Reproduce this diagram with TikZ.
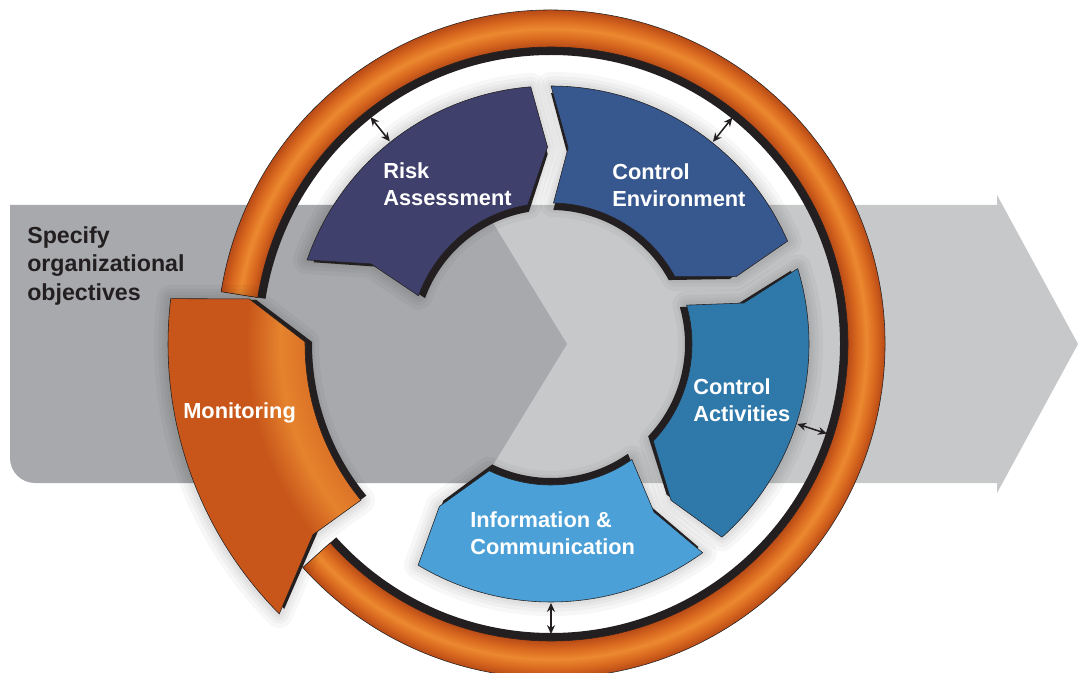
\documentclass[tikz,border=0pt]{standalone}
\usepackage{fontspec}
\setmainfont{Liberation Sans}
\usetikzlibrary{arrows.meta, calc}
\definecolor{raBlue}{HTML}{3F406C}
\definecolor{ceBlue}{HTML}{37588F}
\definecolor{caBlue}{HTML}{2E78AA}
\definecolor{icBlue}{HTML}{4BA0D8}
\definecolor{grayDark}{HTML}{A7A9AC}
\definecolor{grayLight}{HTML}{C7C8CA}
\definecolor{ringDark}{HTML}{B84A16}
\definecolor{ringMid}{HTML}{D9691F}
\definecolor{ringLight}{HTML}{EC8930}
\definecolor{monDark}{HTML}{C8561A}
\definecolor{monMid}{HTML}{DA6F25}
\definecolor{monLight}{HTML}{E5832E}
\definecolor{inkBlack}{HTML}{231F20}

\pgfdeclareradialshading{ringtube}{\pgfpointorigin}{color(0bp)=(ringDark); color(22.2bp)=(ringDark); color(22.9bp)=(ringMid); color(23.6bp)=(ringLight); color(24.3bp)=(ringMid); color(25bp)=(ringDark); color(50bp)=(ringDark)}
\pgfdeclareradialshading{montube}{\pgfpointorigin}{color(0bp)=(monMid); color(15.6bp)=(monMid); color(17.6bp)=(monLight); color(19.8bp)=(monDark); color(50bp)=(monDark)}

% segment of the cycle: options, outer/inner start, notch, outer/inner end, point
\newcommand{\segpath}[7]{\path[#1] (#2:\rout) arc[start angle=#2, end angle=#5, radius=\rout]
  -- (#7:\rmid) -- (#6:\rin) arc[start angle=#6, end angle=#3, radius=\rin] -- (#4:\rmid) -- cycle;}
% broken orange ring: options, inner radius, outer radius
\newcommand{\ringpath}[3]{\path[#1] (171:#3) arc[start angle=171, end angle=-138, radius=#3]
  -- (-138:#2) arc[start angle=-138, end angle=171, radius=#2] -- cycle;}
% monitoring block: options, inner, middle, outer radius
\newcommand{\monpath}[4]{\path[#1] (224.8:#4) arc[start angle=224.8, end angle=173.2, radius=#4]
  -- (171.5:#3) -- (179.5:#2) arc[start angle=179.5, end angle=219.4, radius=#2] -- (218.7:#3) -- cycle;}

\begin{document}
\begin{tikzpicture}[x=0.025cm, y=0.025cm,
  halo/.style={draw=black, draw opacity=.03, line width=#1, line join=round},
  segfill/.style={fill=#1, draw=inkBlack, line width=0.4pt, line join=round},
  seglabel/.style={text=white, font=\fontsize{15.5}{19}\selectfont\bfseries, align=left, anchor=west, inner sep=0pt},
  gaparrow/.style={{Stealth[length=2.2mm, width=2mm]}-{Stealth[length=2.2mm, width=2mm]}, line width=1.1pt, draw=inkBlack}]
\useasboundingbox (0,0) rectangle (1078,672);
\fill[white] (0,0) rectangle (1078,672);

% big grey arrow behind the cycle
\fill[grayLight] (400,467) -- (997,467) -- (997,477) -- (1078,328) -- (997,179) -- (997,189) -- (400,189) -- cycle;
\fill[grayDark] (10,467) -- (482,467) -- (567,328) -- (482,189) -- (35,189)
  arc[start angle=270, end angle=180, radius=25] -- cycle;
\node[font=\fontsize{16.5}{20.5}\selectfont\bfseries, text=inkBlack, align=left, anchor=west, inner sep=0pt]
  (objLbl) at (27,406) {Specify\\organizational\\objectives};

\begin{scope}[shift={(551,328)}]
% ring
\ringpath{fill=inkBlack}{289}{330}
\begin{scope}
\ringpath{clip}{297}{334}
\shade[shading=ringtube] (0,0) circle (334);
\end{scope}
\ringpath{draw=inkBlack, line width=0.4pt}{297}{334}

% the four blue blocks
\foreach \col/\os/\is/\nt/\oe/\ie/\pt in {raBlue/161/160/156/94.5/99.5/91,
    ceBlue/90/89/85/23.5/28.5/20, caBlue/17/16/12/-48.5/-43.5/-52.5,
    icBlue/-54/-55/-58.5/-121/-116/-124.5}{
  \def\rin{141}\def\rmid{197}\def\rout{258}
  \foreach \w in {20pt,14pt,9pt,5pt}{
    \segpath{halo=\w}{\os}{\is}{\nt}{\oe}{\ie}{\pt}}
  {\def\rin{134}\def\rmid{190}\def\rout{251}
  \segpath{fill=inkBlack}{\os}{\is}{\nt}{\oe}{\ie}{\pt}}
  \segpath{segfill=\col}{\os}{\is}{\nt}{\oe}{\ie}{\pt}
}

% monitoring block
\foreach \w in {20pt,14pt,9pt,5pt}{
  \monpath{halo=\w}{246}{305}{383}}
\monpath{fill=inkBlack}{239}{298}{376}
\begin{scope}
\monpath{clip}{246}{305}{383}
\shade[shading=montube] (0,0) circle (385);
\end{scope}
\monpath{draw=inkBlack, line width=0.4pt}{246}{305}{383}

% gaps between blocks and ring
\coordinate (raIn) at (128.5:259);  \coordinate (raOut) at (128.5:290);
\coordinate (ceIn) at (51.3:259);   \coordinate (ceOut) at (51.3:290);
\coordinate (caIn) at (-18:259);    \coordinate (caOut) at (-18:290);
\coordinate (icIn) at (-90:259);    \coordinate (icOut) at (-90:290);
\draw[gaparrow] (raIn) -- (raOut);
\draw[gaparrow] (ceIn) -- (ceOut);
\draw[gaparrow] (caIn) -- (caOut);
\draw[gaparrow] (icIn) -- (icOut);
\end{scope}

\node[seglabel] (riskLbl) at (383,488) {Risk\\Assessment};
\node[seglabel] (envLbl) at (612,487) {Control\\Environment};
\node[seglabel] (actLbl) at (693,272) {Control\\Activities};
\node[seglabel] (infoLbl) at (470,139) {Information \&\\Communication};
\node[seglabel] (monLbl) at (183,259) {Monitoring};
\end{tikzpicture}
\end{document}
